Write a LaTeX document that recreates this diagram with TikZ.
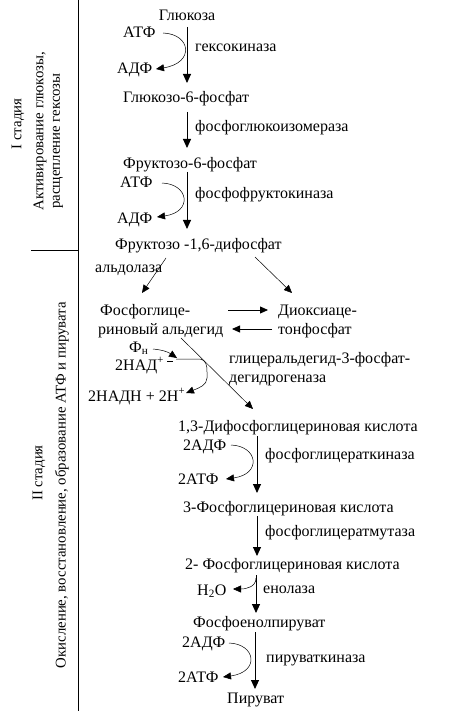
\documentclass[tikz,border=0pt]{standalone}
\usepackage{fontspec}
\setmainfont{Liberation Serif}
\usetikzlibrary{arrows.meta}
\begin{document}
\begin{tikzpicture}[x=1pt,y=-1pt,
  font=\fontsize{16}{18}\selectfont,
  arr/.style={-{Triangle[length=9pt,width=8pt]}, line width=0.9pt},
  carr/.style={-{Triangle[length=8pt,width=7pt]}, line width=0.5pt},
  lbl/.style={inner sep=0pt, anchor=base west},
  ctr/.style={inner sep=0pt, anchor=base},
  side/.style={inner sep=0pt, rotate=90, anchor=center, font=\fontsize{14.8}{17}\selectfont}]
\useasboundingbox (0,0) rectangle (473,711);
\fill[white] (0,0) rectangle (473,711);

% dividers
\coordinate (dvt) at (78,0);
\coordinate (dvb) at (78,711);
\coordinate (hl) at (31,250);
\coordinate (hr) at (78,250);
\draw[line width=0.9pt] (dvt) -- (dvb);
\draw[line width=0.7pt] (hl) -- (hr);

% side labels
\node[side] (s1a) at (18,124) {I стадия};
\node[side] (s1b) at (40,131) {Активирование глюкозы,};
\node[side] (s1c) at (58,141) {расщепление гексозы};
\node[side] (s2a) at (39,473) {II стадия};
\node[side] (s2b) at (62,485) {Окисление, восстановление, образование АТФ и пирувата};

% stage I
\node[ctr] (glc) at (187,21) {Глюкоза};
\node[lbl] (atp1) at (123,38) {АТФ};
\node[lbl] (adp1) at (117,74) {АДФ};
\node[lbl] (hk) at (195,52) {гексокиназа};
\node[lbl] (g6p) at (123,103) {Глюкозо-6-фосфат};
\node[lbl] (pgi) at (195,132) {фосфоглюкоизомераза};
\node[lbl] (f6p) at (123,169) {Фруктозо-6-фосфат};
\node[lbl] (atp2) at (120,188) {АТФ};
\node[lbl] (adp2) at (117,223) {АДФ};
\node[lbl] (pfk) at (195,199) {фосфофруктокиназа};
\node[lbl] (fbp) at (115,249) {Фруктозо -1,6-дифосфат};

\coordinate (m1a) at (187,27);  \coordinate (m1b) at (187,83);
\coordinate (m2a) at (187,112); \coordinate (m2b) at (187,148);
\coordinate (m3a) at (187,172); \coordinate (m3b) at (187,229);
\draw[arr] (m1a) -- (m1b);
\draw[arr] (m2a) -- (m2b);
\draw[arr] (m3a) -- (m3b);

\coordinate (c1a) at (163,33);  \coordinate (c1b) at (156,69);
\coordinate (c2a) at (162,183); \coordinate (c2b) at (157,217);
\draw[carr] (c1a) .. controls (191,34) and (195,63) .. (c1b);
\draw[carr] (c2a) .. controls (189,184) and (193,212) .. (c2b);

% stage II
\node[lbl] (ald) at (95,272) {альдолаза};
\node[lbl] (gap1) at (100,315) {Фосфоглице-};
\node[lbl] (gap2) at (98,334) {риновый альдегид};
\node[lbl] (dhap1) at (278,315) {Диоксиаце-};
\node[lbl] (dhap2) at (278,334) {тонфосфат};

\coordinate (dl1) at (166,258); \coordinate (dl2) at (142,293);
\coordinate (dr1) at (255,257); \coordinate (dr2) at (292,293);
\draw[carr] (dl1) -- (dl2);
\draw[carr] (dr1) -- (dr2);
\coordinate (e1a) at (228,310); \coordinate (e1b) at (268,310);
\coordinate (e2a) at (272,329); \coordinate (e2b) at (232,329);
\draw[carr,line width=0.8pt] (e1a) -- (e1b);
\draw[carr,line width=0.8pt] (e2a) -- (e2b);

\node[lbl] (pn) at (129,352) {Ф\textsubscript{н}};
\node[lbl] (nad) at (115,370) {2НАД\textsuperscript{+}};
\node[lbl] (nadh) at (88,401) {2НАДН + 2Н\textsuperscript{+}};
\node[lbl] (gapdh1) at (229,363) {глицеральдегид-3-фосфат-};
\node[lbl] (gapdh2) at (229,382) {дегидрогеназа};

\coordinate (pna) at (153,349); \coordinate (pnb) at (177,358);
\draw[carr] (pna) .. controls (163,350) and (168,352) .. (pnb);
\coordinate (nda) at (167,361); \coordinate (ndb) at (173,361);
\draw[line width=0.5pt] (nda) -- (ndb);
\coordinate (nc1) at (176,359); \coordinate (nc2) at (186,393);
\draw[carr] (nc1) -- (200,359) .. controls (206,360) and (207,365) .. (207,372)
   -- (207,378) .. controls (207,385) and (199,388) .. (nc2);
\coordinate (dg1) at (181,338); \coordinate (dg2) at (253,409);
\draw[carr] (dg1) -- (dg2);

\node[lbl] (bpg) at (178,431) {1,3-Дифосфоглицериновая кислота};
\node[lbl] (adp3) at (183,450) {2АДФ};
\node[lbl] (atp3) at (178,484) {2АТФ};
\node[lbl] (pgk) at (265,459) {фосфоглицераткиназа};
\node[lbl] (pg3) at (183,512) {3-Фосфоглицериновая кислота};
\node[lbl] (pgm) at (265,536) {фосфоглицератмутаза};
\node[lbl] (pg2) at (185,569) {2- Фосфоглицериновая кислота};
\node[lbl] (h2o) at (197,595) {Н\textsubscript{2}О};
\node[lbl] (eno) at (263,593) {енолаза};
\node[lbl] (pep) at (193,627) {Фосфоенолпируват};
\node[lbl] (adp4) at (182,647) {2АДФ};
\node[lbl] (atp4) at (178,682) {2АТФ};
\node[lbl] (pk) at (266,662) {пируваткиназа};
\node[lbl] (pyr) at (227,703) {Пируват};

\coordinate (m4a) at (257,436); \coordinate (m4b) at (257,493);
\coordinate (m5a) at (257,516); \coordinate (m5b) at (257,556);
\coordinate (m6a) at (256,575); \coordinate (m6b) at (256,613);
\coordinate (m7a) at (255,632); \coordinate (m7b) at (255,689);
\draw[arr] (m4a) -- (m4b);
\draw[arr] (m5a) -- (m5b);
\draw[arr] (m6a) -- (m6b);
\draw[arr] (m7a) -- (m7b);

\coordinate (c3a) at (231,445); \coordinate (c3b) at (226,479);
\coordinate (hwa) at (256,578); \coordinate (hwb) at (233,589);
\coordinate (c4a) at (229,643); \coordinate (c4b) at (223,677);
\draw[carr] (c3a) .. controls (258,446) and (262,474) .. (c3b);
\draw[carr] (hwa) .. controls (256,587) and (246,589) .. (hwb);
\draw[carr] (c4a) .. controls (256,644) and (260,672) .. (c4b);
\end{tikzpicture}
\end{document}
